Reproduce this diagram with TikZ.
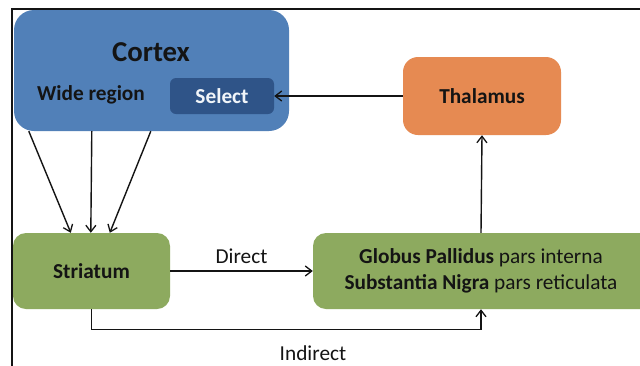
\documentclass[tikz,border=0pt]{standalone}
\usepackage{fontspec}
\setmainfont{Carlito}
\usetikzlibrary{arrows.meta,calc}
\definecolor{cortexblue}{HTML}{5180B8}
\definecolor{selectblue}{HTML}{2F5488}
\definecolor{thalorange}{HTML}{E68A52}
\definecolor{boxgreen}{HTML}{8DAA5F}
\definecolor{txt}{HTML}{141414}
\begin{document}
\begin{tikzpicture}[x=1pt,y=-1pt,
  lbl/.style={font=\fontsize{21.3}{26}\selectfont, text=txt, inner sep=0pt},
  box/.style={draw=none, inner sep=0pt, font=\fontsize{21.3}{26}\selectfont\bfseries, text=txt, align=center},
  conn/.style={line width=1.4pt, draw=txt, -{Straight Barb[length=6.5pt,width=10pt,line width=1.3pt]}}
]
\useasboundingbox (0,0) rectangle (640,365);
\clip (0,0) rectangle (640,365);
\fill[white] (0,0) rectangle (640,365);
% frame
\draw[line width=1.6pt, draw=txt] (12,370) -- (12,9) -- (645,9);
% boxes
\node[box, fill=cortexblue, rounded corners=20pt, minimum width=275pt, minimum height=121pt] (cortex) at (151.5,70.5) {};
\node[lbl, font=\fontsize{28.8}{32}\selectfont\bfseries] (ctitle) at (151,52) {Cortex};
\node[lbl, font=\fontsize{21.3}{26}\selectfont\bfseries] (wide) at (91,95) {Wide region};
\node[box, fill=selectblue, rounded corners=6pt, minimum width=104pt, minimum height=36pt, text=white!92!cortexblue] (select) at (222,96) {Select};
\node[box, fill=thalorange, rounded corners=15pt, minimum width=158pt, minimum height=78pt] (thal) at (482,96) {Thalamus};
\node[box, fill=boxgreen, rounded corners=13pt, minimum width=157pt, minimum height=76pt] (stri) at (91.5,271) {Striatum};
\node[box, fill=boxgreen, rounded corners=13pt, minimum width=352pt, minimum height=76pt] (gp) at (489,271) {};
\node[lbl, align=center] (gptext) at (481,271)
  {\textbf{Globus Pallidus} pars interna\\\textbf{Substantia Nigra} pars reticulata};
% connectors
\draw[conn] (thal.west) -- (select.east);
\draw[conn] ($(cortex.south west)+(15,0)$) -- ($(stri.north west)+(58,0)$);
\draw[conn] ($(cortex.south west)+(78,0)$) -- ($(stri.north west)+(78,0)$);
\draw[conn] ($(cortex.south west)+(137,0)$) -- ($(stri.north west)+(97,0)$);
\draw[conn] (stri.east) -- node[lbl, above=7pt] (direct) {Direct} (gp.west);
\draw[conn] (stri.south) -- ++(0,20) -| (gptext.south |- gp.south);
\node[lbl] (indirect) at (313,353) {Indirect};
\draw[conn] (gptext.north |- gp.north) -- (thal.south);
\end{tikzpicture}
\end{document}
